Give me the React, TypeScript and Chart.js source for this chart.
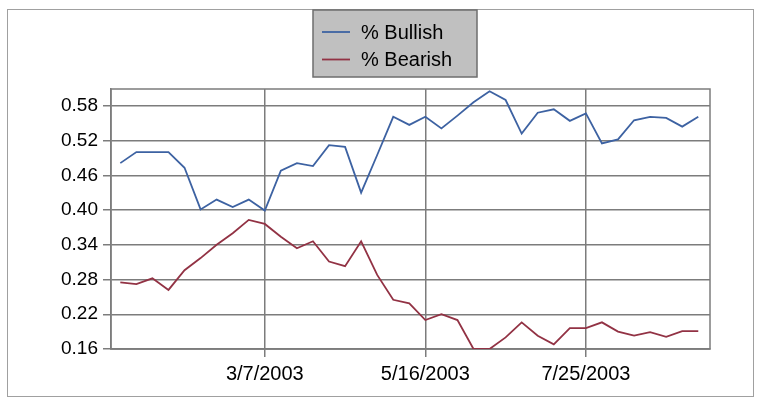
import React, { useEffect, useRef } from 'react';
import { Chart, registerables } from 'chart.js';

Chart.register(...registerables);

const dateLabels = [
  '1/3/2003', '1/10/2003', '1/17/2003', '1/24/2003', '1/31/2003',
  '2/7/2003', '2/14/2003', '2/21/2003', '2/28/2003', '3/7/2003',
  '3/14/2003', '3/21/2003', '3/28/2003', '4/4/2003', '4/11/2003',
  '4/18/2003', '4/25/2003', '5/2/2003', '5/9/2003', '5/16/2003',
  '5/23/2003', '5/30/2003', '6/6/2003', '6/13/2003', '6/20/2003',
  '6/27/2003', '7/4/2003', '7/11/2003', '7/18/2003', '7/25/2003',
  '8/1/2003', '8/8/2003', '8/15/2003', '8/22/2003', '8/29/2003',
  '9/5/2003', '9/12/2003',
];

const bullish = [
  0.481, 0.5, 0.5, 0.5, 0.473, 0.401, 0.418, 0.405, 0.418, 0.399,
  0.468, 0.481, 0.476, 0.512, 0.509, 0.43, 0.495, 0.561, 0.547, 0.561,
  0.541, 0.563, 0.586, 0.605, 0.59, 0.532, 0.568, 0.574, 0.554, 0.567,
  0.515, 0.522, 0.555, 0.561, 0.559, 0.544, 0.561,
];

const bearish = [
  0.275, 0.272, 0.282, 0.262, 0.296, 0.317, 0.34, 0.36, 0.383, 0.376,
  0.354, 0.334, 0.346, 0.311, 0.303, 0.346, 0.288, 0.245, 0.239, 0.21,
  0.22, 0.21, 0.16, 0.16, 0.18, 0.206, 0.183, 0.168, 0.196, 0.196,
  0.206, 0.19, 0.183, 0.189, 0.181, 0.191, 0.191,
];

const seriesNames = ['% Bullish', '% Bearish'];
const seriesColors = ['#3d62a2', '#923244'];
const yTickValues = [0.16, 0.22, 0.28, 0.34, 0.4, 0.46, 0.52, 0.58];
const xTickIndices = [9, 19, 29];

const FONT = '"Liberation Sans", Arial, sans-serif';
const GRID = '#7c7c7c';

const framePlugin = {
  id: 'frame',
  beforeDraw(chart: any) {
    const ctx = chart.ctx;
    ctx.save();
    ctx.fillStyle = '#ffffff';
    ctx.fillRect(0, 0, chart.width, chart.height);
    ctx.strokeStyle = '#a0a0a0';
    ctx.lineWidth = 1;
    ctx.strokeRect(7.5, 9.5, 746, 387);
    ctx.restore();
  },
  beforeDatasetsDraw(chart: any) {
    const { left, top, right, bottom } = chart.chartArea;
    const ctx = chart.ctx;
    ctx.save();
    ctx.strokeStyle = GRID;
    ctx.lineWidth = 1.5;
    ctx.strokeRect(left, top, right - left, bottom - top);
    ctx.restore();
  },
  afterDraw(chart: any) {
    const ctx = chart.ctx;
    ctx.save();
    ctx.fillStyle = '#c0c0c0';
    ctx.fillRect(313, 10, 164, 67);
    ctx.strokeStyle = '#6e6e6e';
    ctx.lineWidth = 1.5;
    ctx.strokeRect(313, 10, 164, 67);
    chart.data.datasets.forEach((ds: any, i: number) => {
      const y = 32 + i * 27.5;
      ctx.strokeStyle = ds.borderColor;
      ctx.lineWidth = 1.8;
      ctx.beginPath();
      ctx.moveTo(322, y);
      ctx.lineTo(350, y);
      ctx.stroke();
      ctx.fillStyle = '#000000';
      ctx.font = `20px ${FONT}`;
      ctx.textBaseline = 'middle';
      ctx.textAlign = 'left';
      ctx.fillText(ds.label, 361, y + 1);
    });
    ctx.restore();
  },
};

export default function App() {
  const canvasRef = useRef<HTMLCanvasElement | null>(null);

  useEffect(() => {
    if (!canvasRef.current) return;
    const chart = new Chart(canvasRef.current, {
      type: 'line',
      data: {
        datasets: [bullish, bearish].map((vals, s) => ({
          label: seriesNames[s],
          data: vals.map((v, i) => ({ x: i, y: v })),
          borderColor: seriesColors[s],
          backgroundColor: seriesColors[s],
          borderWidth: 1.8,
          pointRadius: 0,
          tension: 0,
          fill: false,
        })),
      },
      options: {
        animation: false,
        responsive: false,
        devicePixelRatio: 1,
        layout: { padding: { left: 0, top: 89, right: 50, bottom: 0 } },
        plugins: { legend: { display: false }, tooltip: { enabled: false } },
        scales: {
          x: {
            type: 'linear',
            min: -0.58,
            max: 36.73,
            afterBuildTicks: (scale: any) => {
              scale.ticks = xTickIndices.map((v) => ({ value: v }));
            },
            afterFit: (scale: any) => {
              scale.height = 52;
            },
            ticks: {
              autoSkip: false,
              maxRotation: 0,
              padding: 5,
              color: '#000000',
              font: { family: FONT, size: 20 },
              callback: (value: any) => dateLabels[value] ?? '',
            },
            grid: { color: GRID, lineWidth: 1.5, tickLength: 8, drawTicks: true },
            border: { display: true, color: GRID, width: 1.5 },
          },
          y: {
            type: 'linear',
            min: 0.16,
            max: 0.609,
            afterBuildTicks: (scale: any) => {
              scale.ticks = yTickValues.map((v) => ({ value: v }));
            },
            afterFit: (scale: any) => {
              scale.width = 111;
            },
            ticks: {
              padding: 5,
              color: '#000000',
              font: { family: FONT, size: 19 },
              callback: (value: any) => Number(value).toFixed(2),
            },
            grid: { color: GRID, lineWidth: 1.5, tickLength: 8, drawTicks: true },
            border: { display: true, color: GRID, width: 1.5 },
          },
        },
      },
      plugins: [framePlugin],
    } as any);
    return () => chart.destroy();
  }, []);

  return (
    <div style={{ position: 'absolute', left: 0, top: 0, width: 760, height: 401, background: '#fff' }}>
      <canvas ref={canvasRef} width={760} height={401} style={{ display: 'block' }} />
    </div>
  );
}
